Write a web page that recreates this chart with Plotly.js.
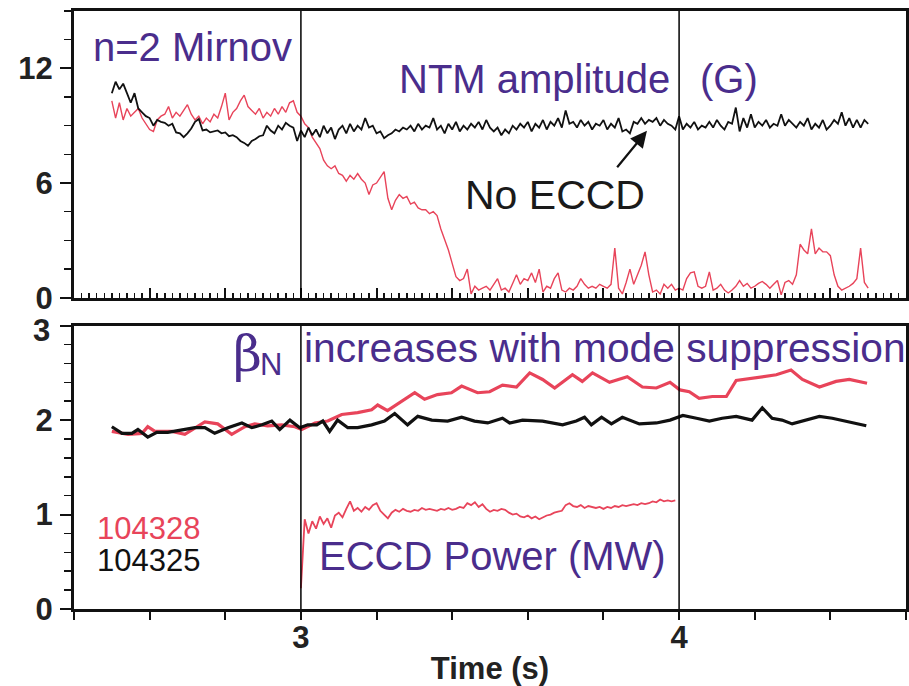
<!DOCTYPE html>
<html>
<head>
<meta charset="utf-8">
<script src="https://cdn.plot.ly/plotly-3.0.1.min.js"></script>
<style>html,body{margin:0;padding:0;background:#fff;}#chart{width:909px;height:686px;}</style>
</head>
<body>
<div id="chart"></div>
<script>
// ---- Data ----
// Top panel: n=2 Mirnov NTM amplitude (G), sampled every 0.01 s from 2.50 s
const ntmStart = 2.50, ntmStep = 0.01;
const ntm104328 = [10.3,9.4,10.2,9.3,9.9,9.5,9.7,9.9,9.4,9.1,
  8.8,8.7,9.3,9.5,9.6,10.0,9.4,9.7,9.5,9.8,
  10.1,9.6,9.3,9.5,9.1,9.4,9.2,9.6,9.4,10.0,
  10.7,9.3,9.7,9.9,10.3,10.6,10.0,9.8,9.6,9.9,
  9.4,9.7,9.5,9.9,9.6,10.0,9.7,10.2,10.3,9.7,
  9.5,9.1,8.9,8.4,8.1,7.8,7.2,6.9,6.75,6.9,
  6.5,6.4,6.1,6.4,6.2,6.5,6.2,6.0,5.4,5.9,
  6.0,6.3,6.6,5.2,4.6,5.1,5.4,5.2,5.3,4.9,
  5.0,4.7,4.6,4.6,4.4,4.5,4.3,3.6,3.1,2.5,
  1.8,1.1,0.9,1.0,1.5,0.2,0.6,0.4,0.5,0.6,
  0.4,0.7,1.0,0.4,0.5,0.3,0.8,1.2,0.7,1.0,
  0.9,1.3,0.8,1.5,0.3,0.6,0.5,1.0,1.3,0.4,
  0.3,0.5,0.4,0.6,1.0,0.7,0.5,0.6,0.5,0.7,
  0.6,0.5,0.7,2.6,0.5,0.2,0.8,1.5,0.7,1.2,
  1.7,2.4,1.2,0.3,0.4,0.2,0.7,0.5,0.7,0.4,
  0.5,0.4,1.0,1.3,1.35,0.6,0.5,0.6,1.35,0.4,
  0.5,0.7,0.4,0.25,0.4,0.6,0.9,0.6,0.75,0.5,
  0.6,0.75,0.85,0.7,0.5,0.7,0.9,0.15,0.8,0.9,
  0.7,1.2,2.8,2.5,2.3,3.6,2.3,2.6,2.4,2.4,
  2.2,1.2,0.6,0.4,0.5,0.6,0.75,1.0,2.6,0.8,
  0.5];
const ntm104325 = [10.7,11.3,10.9,11.2,10.7,10.2,10.7,9.9,9.7,9.5,
  9.4,9.0,9.3,9.2,9.15,9.0,9.1,8.65,8.6,8.4,
  8.6,8.85,9.2,9.35,8.75,8.8,8.65,8.7,8.75,8.6,
  8.65,8.45,8.5,8.4,8.2,8.1,7.95,8.2,8.3,8.45,
  8.5,9.0,8.75,8.6,9.0,8.8,9.15,9.0,8.9,8.2,
  8.75,8.4,8.9,8.5,8.8,8.4,9.0,8.6,8.9,8.3,
  8.8,9.0,8.6,9.1,8.7,9.0,8.8,9.4,8.9,9.0,
  8.6,8.7,8.35,8.5,8.6,8.8,8.7,8.9,8.8,9.0,
  8.7,9.1,8.8,9.0,8.9,9.4,8.8,9.0,8.6,9.1,
  8.8,9.2,8.7,9.0,8.8,9.1,8.9,9.2,8.8,9.3,
  8.9,8.7,8.9,8.5,8.8,8.6,9.0,8.8,9.1,8.9,
  9.2,8.7,9.1,8.9,9.3,8.8,9.2,9.0,9.4,8.9,
  9.8,9.1,9.2,8.9,9.3,9.0,9.2,8.8,9.1,9.0,
  9.3,8.8,9.1,8.9,9.4,8.7,8.8,8.6,9.2,9.1,
  9.4,9.1,9.3,9.2,9.4,9.0,9.3,9.1,9.0,8.8,
  9.5,8.8,9.1,8.9,9.2,8.8,9.0,8.9,9.2,8.9,
  9.3,9.0,8.8,9.2,9.1,9.95,8.7,9.4,8.9,9.6,
  8.9,9.2,9.0,9.3,8.9,9.1,9.0,9.6,9.0,9.3,
  9.1,8.9,9.2,9.0,9.4,8.8,9.1,8.9,9.3,8.8,
  9.0,9.3,9.1,9.7,9.0,9.4,8.9,9.3,8.9,9.3,
  9.1];

// Bottom panel: beta_N
const betaTime104325 = [2.50,2.527,2.553,2.569,2.595,2.619,2.648,2.685,2.72,2.746,2.772,2.807,2.844,2.87,2.897,2.923,2.944,2.971,2.997,3.018,3.042,3.058,3.076,3.097,3.124,3.15,3.187,3.221,3.248,3.282,3.309,3.346,3.388,3.425,3.459,3.494,3.533,3.552,3.586,3.639,3.692,3.728,3.75,3.768,3.795,3.821,3.85,3.895,3.94,3.976,4.01,4.046,4.08,4.114,4.151,4.193,4.22,4.246,4.272,4.299,4.336,4.371,4.405,4.442,4.495];
const beta104325 = [1.93,1.86,1.86,1.90,1.82,1.87,1.87,1.90,1.92,1.92,1.86,1.92,1.97,1.92,1.95,1.99,1.90,2.00,1.92,1.95,1.95,1.99,1.88,2.00,1.92,1.92,1.95,1.99,2.07,1.95,2.04,2.00,1.99,2.03,1.99,1.97,2.02,1.97,2.00,1.99,1.95,1.99,2.03,1.95,2.03,1.96,2.03,1.96,1.97,2.00,2.05,2.02,1.99,2.02,2.04,2.00,2.13,2.02,2.00,1.96,2.00,2.04,2.02,1.99,1.94];
const betaTime104328 = [2.50,2.543,2.58,2.595,2.614,2.659,2.693,2.72,2.746,2.78,2.817,2.852,2.878,2.912,2.949,2.984,3.002,3.037,3.071,3.108,3.15,3.187,3.203,3.229,3.266,3.301,3.327,3.361,3.398,3.425,3.467,3.499,3.533,3.57,3.605,3.639,3.671,3.718,3.744,3.771,3.816,3.863,3.903,3.94,3.976,4.002,4.027,4.053,4.088,4.125,4.151,4.204,4.257,4.296,4.326,4.371,4.415,4.45,4.497];
const beta104328 = [1.88,1.85,1.86,1.93,1.88,1.88,1.85,1.92,1.98,1.96,1.85,1.93,1.96,1.94,1.95,1.93,1.90,1.97,1.99,2.06,2.08,2.11,2.16,2.10,2.20,2.29,2.22,2.27,2.29,2.36,2.29,2.30,2.37,2.35,2.50,2.43,2.34,2.48,2.41,2.50,2.40,2.46,2.35,2.34,2.40,2.32,2.30,2.23,2.25,2.25,2.42,2.45,2.48,2.53,2.43,2.35,2.41,2.43,2.39];

// Bottom panel: ECCD power (MW), shot 104328, every 0.01 s from 3.00 s
const eccdStart = 3.00, eccdStep = 0.01;
const eccdPower = [0.22,0.95,0.80,0.93,0.85,0.98,0.90,0.96,0.86,0.99,
  1.02,0.97,1.06,1.14,1.04,1.07,1.03,1.08,1.05,1.10,
  1.12,1.04,1.00,0.96,1.02,1.05,1.03,1.06,1.04,1.03,
  1.05,1.04,1.07,1.05,1.06,1.05,1.04,1.06,1.05,1.07,
  1.05,1.06,1.08,1.07,1.12,1.10,1.13,1.08,1.11,1.06,
  1.03,1.05,1.04,1.06,1.05,1.02,1.00,1.01,0.98,0.97,
  0.99,0.96,0.98,0.95,0.97,0.99,1.00,1.02,1.03,1.04,
  1.10,1.12,1.09,1.08,1.10,1.07,1.09,1.08,1.07,1.08,
  1.06,1.08,1.07,1.09,1.08,1.10,1.09,1.10,1.11,1.10,
  1.12,1.11,1.12,1.14,1.13,1.16,1.14,1.15,1.14,1.15];

// Axis tick labels
const xTickVals = [2.4,2.6,2.8,3.0,3.2,3.4,3.6,3.8,4.0,4.2,4.4,4.6];
const xTickText = ['','','','3','','','','','4','','',''];
const topYTickVals = [0,6,12];
const topYTickText = ['0','6','12'];
const botYTickVals = [0,1,2,3];
const botYTickText = ['0','1','2',''];   // the top label "3" sits slightly below its tick (drawn as text below)
const botTopLabel = '3';
const markerLines = [3,4];

// ---- Build ----
function sampleTimes(t0, dt, n){const a=[];for(let i=0;i<n;i++)a.push(+(t0+i*dt).toFixed(4));return a;}
const ntmTime = sampleTimes(ntmStart, ntmStep, ntm104328.length);
const eccdTime = sampleTimes(eccdStart, eccdStep, eccdPower.length);

const RED = '#e8445a', BLACK = '#111111', PURPLE = '#4a2d8c';
const tickFont = {family:'"Liberation Sans",Arial,sans-serif', size:31, weight:700, color:'#222'};
const annFont = {family:'"Liberation Sans",Arial,Helvetica,sans-serif', size:40, color:PURPLE};

const traces = [
  {x:ntmTime, y:ntm104328, xaxis:'x', yaxis:'y', mode:'lines', line:{color:RED, width:1.4}},
  {x:ntmTime, y:ntm104325, xaxis:'x', yaxis:'y', mode:'lines', line:{color:BLACK, width:1.8}},
  {x:betaTime104328, y:beta104328, xaxis:'x2', yaxis:'y2', mode:'lines', line:{color:RED, width:3.2}},
  {x:betaTime104325, y:beta104325, xaxis:'x2', yaxis:'y2', mode:'lines', line:{color:BLACK, width:3.2}},
  {x:eccdTime, y:eccdPower, xaxis:'x2', yaxis:'y2', mode:'lines', line:{color:RED, width:1.8}}
];

const shapes = [];
markerLines.forEach(v=>{
  shapes.push({type:'line', xref:'x', yref:'y domain', x0:v, x1:v, y0:0, y1:1, line:{color:'#000', width:1.5}});
  shapes.push({type:'line', xref:'x2', yref:'y2 domain', x0:v, x1:v, y0:0, y1:1, line:{color:'#000', width:1.5}});
});

const annotations = [
  {xref:'x', yref:'y', x:2.445, y:13.1, xanchor:'left', yanchor:'middle', text:'n=2 Mirnov', showarrow:false, font:annFont},
  {xref:'x', yref:'y', x:3.253, y:11.45, xanchor:'left', yanchor:'middle', text:'NTM amplitude', showarrow:false, font:annFont},
  {xref:'x', yref:'y', x:4.051, y:11.45, xanchor:'left', yanchor:'middle', text:'(G)', showarrow:false, font:annFont},
  {xref:'x', yref:'y', x:3.428, y:5.37, xanchor:'left', yanchor:'middle', text:'No ECCD', showarrow:false, font:Object.assign({}, annFont, {size:41, color:'#1a1a1a'})},
  {xref:'x', yref:'y', x:3.915, y:8.73, axref:'x', ayref:'y', ax:3.833, ay:6.75, text:'', showarrow:true, arrowhead:2, arrowsize:1.5, arrowwidth:2.2, arrowcolor:'#111'},
  {xref:'x2', yref:'y2', x:2.815, y:2.70, xanchor:'left', yanchor:'middle', text:'β', showarrow:false, font:{family:'"DejaVu Serif","Liberation Serif",serif', size:50, color:PURPLE}},
  {xref:'x2', yref:'y2', x:2.886, y:2.59, xanchor:'left', yanchor:'middle', text:'N', showarrow:false, font:{family:'"Liberation Sans",Arial,sans-serif', size:31, color:PURPLE}},
  {xref:'x2', yref:'y2', x:3.002, y:2.76, xanchor:'left', yanchor:'middle', text:'increases with mode suppression', showarrow:false, font:Object.assign({}, annFont, {size:40.7})},
  {xref:'x2', yref:'y2', x:3.043, y:0.565, xanchor:'left', yanchor:'middle', text:'ECCD Power (MW)', showarrow:false, font:annFont},
  {xref:'x2', yref:'y2', x:2.455, y:0.85, xanchor:'left', yanchor:'middle', text:'104328', showarrow:false, font:{family:'"Liberation Sans",Arial,sans-serif', size:31, color:RED}},
  {xref:'x2', yref:'y2', x:2.455, y:0.51, xanchor:'left', yanchor:'middle', text:'104325', showarrow:false, font:{family:'"Liberation Sans",Arial,sans-serif', size:31, color:'#111'}},
  {xref:'paper', yref:'y2', x:-0.0275, y:2.945, xanchor:'right', yanchor:'middle', text:botTopLabel, showarrow:false, font:tickFont, borderpad:0}
];

const axisLine = {showline:true, linecolor:'#111', linewidth:3, mirror:true, zeroline:false, showgrid:false};

const layout = {
  width:909, height:686,
  margin:{l:74, r:3, t:11, b:77, pad:0},
  paper_bgcolor:'#fff', plot_bgcolor:'#fff',
  showlegend:false, hovermode:false,
  xaxis: Object.assign({}, axisLine, {anchor:'y', range:[2.4,4.6], showticklabels:false,
    ticks:'inside', tickmode:'array', tickvals:xTickVals, ticklen:10, tickwidth:2, tickcolor:'#111',
    minor:{ticks:'inside', dtick:0.02, tick0:2.4, ticklen:5, tickwidth:1.5, tickcolor:'#111', showgrid:false}}),
  yaxis: Object.assign({}, axisLine, {domain:[0.5205,1], range:[0,15], ticks:'outside',
    tickmode:'array', tickvals:topYTickVals, ticktext:topYTickText, ticklen:11, tickwidth:2, tickcolor:'#111',
    tickfont:tickFont, ticklabelstandoff:1,
    minor:{ticks:'outside', dtick:1.5, tick0:0, ticklen:7, tickwidth:1.5, tickcolor:'#111', showgrid:false}}),
  xaxis2: Object.assign({}, axisLine, {anchor:'y2', range:[2.4,4.6], ticks:'outside',
    tickmode:'array', tickvals:xTickVals, ticktext:xTickText, ticklen:8, tickwidth:2, tickcolor:'#111',
    tickfont:tickFont, ticklabelstandoff:-9,
    title:{text:'Time (s)', font:Object.assign({}, tickFont, {size:31, color:'#222'}), standoff:18}}),
  yaxis2: Object.assign({}, axisLine, {anchor:'x2', domain:[0,0.4738], range:[0,3], ticks:'outside',
    tickmode:'array', tickvals:botYTickVals, ticktext:botYTickText, ticklen:11, tickwidth:2, tickcolor:'#111',
    tickfont:tickFont, ticklabelstandoff:1,
    minor:{ticks:'outside', dtick:0.2, tick0:0, ticklen:7, tickwidth:1.5, tickcolor:'#111', showgrid:false}}),
  shapes: shapes,
  annotations: annotations
};

Plotly.newPlot('chart', traces, layout, {displayModeBar:false, staticPlot:true});
</script>
</body>
</html>
